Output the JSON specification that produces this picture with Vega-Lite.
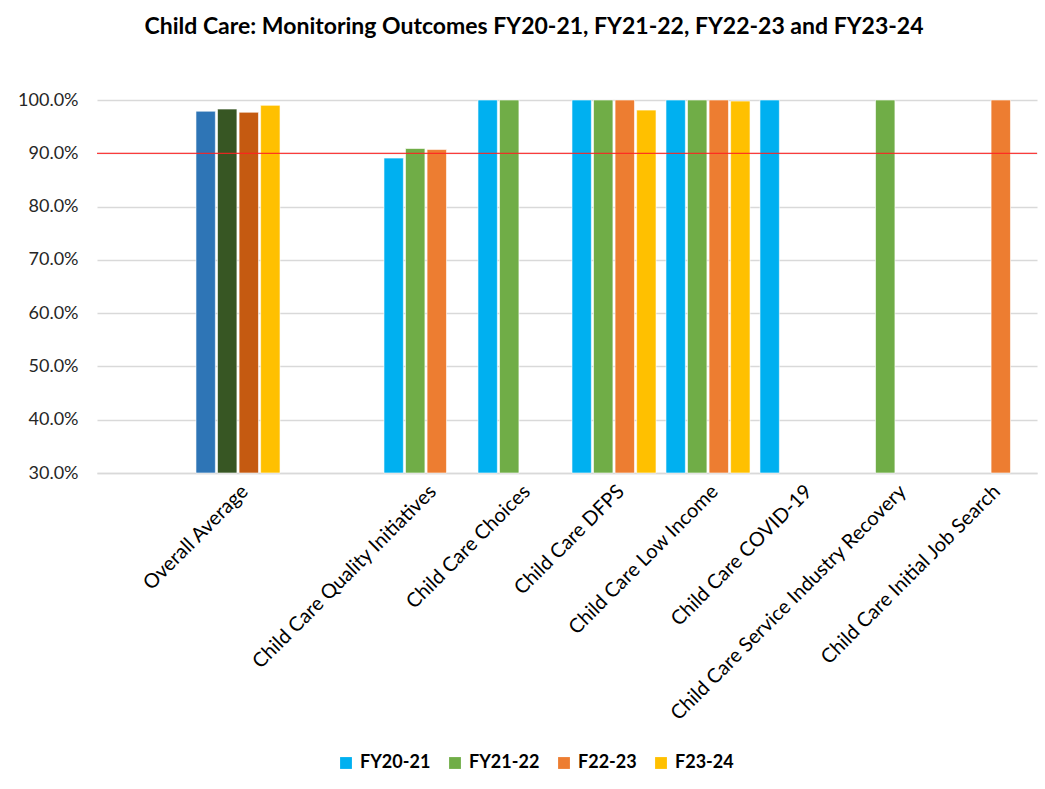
{
  "$schema": "https://vega.github.io/schema/vega-lite/v6.json",
  "autosize": "none",
  "width": 940,
  "height": 373,
  "padding": {"left": 97, "top": 100, "right": 8, "bottom": 316},
  "background": "#ffffff",
  "title": {
    "text": "Child Care: Monitoring Outcomes FY20-21, FY21-22, FY22-23 and FY23-24",
    "font": "Lato",
    "fontSize": 23,
    "fontWeight": "bold",
    "color": "#000000",
    "anchor": "middle",
    "dx": -33,
    "offset": 52
  },
  "config": {
    "view": {"stroke": null},
    "font": "Lato"
  },
  "layer": [
    {
      "data": {
        "values": [
          {"category": "Overall Average", "series": "FY20-21", "value": 0.979},
          {"category": "Overall Average", "series": "FY21-22", "value": 0.983},
          {"category": "Overall Average", "series": "F22-23", "value": 0.977},
          {"category": "Overall Average", "series": "F23-24", "value": 0.990},
          {"category": "Child Care Quality Initiatives", "series": "FY20-21", "value": 0.891},
          {"category": "Child Care Quality Initiatives", "series": "FY21-22", "value": 0.909},
          {"category": "Child Care Quality Initiatives", "series": "F22-23", "value": 0.907},
          {"category": "Child Care Choices", "series": "FY20-21", "value": 1.0},
          {"category": "Child Care Choices", "series": "FY21-22", "value": 1.0},
          {"category": "Child Care DFPS", "series": "FY20-21", "value": 1.0},
          {"category": "Child Care DFPS", "series": "FY21-22", "value": 1.0},
          {"category": "Child Care DFPS", "series": "F22-23", "value": 1.0},
          {"category": "Child Care DFPS", "series": "F23-24", "value": 0.981},
          {"category": "Child Care Low Income", "series": "FY20-21", "value": 1.0},
          {"category": "Child Care Low Income", "series": "FY21-22", "value": 1.0},
          {"category": "Child Care Low Income", "series": "F22-23", "value": 1.0},
          {"category": "Child Care Low Income", "series": "F23-24", "value": 0.998},
          {"category": "Child Care COVID-19", "series": "FY20-21", "value": 1.0},
          {"category": "Child Care Service Industry Recovery", "series": "FY21-22", "value": 1.0},
          {"category": "Child Care Initial Job Search", "series": "F22-23", "value": 1.0}
        ]
      },
      "transform": [
        {"calculate": "datum.category === 'Overall Average' ? 'avg ' + datum.series : datum.series", "as": "shade"}
      ],
      "mark": {"type": "bar", "stroke": "#ffffff", "strokeOpacity": 0.6, "strokeWidth": 1},
      "encoding": {
        "x": {
          "field": "category",
          "type": "nominal",
          "sort": null,
          "scale": {
            "domain": [" ", "Overall Average", "  ", "Child Care Quality Initiatives", "Child Care Choices", "Child Care DFPS", "Child Care Low Income", "Child Care COVID-19", "Child Care Service Industry Recovery", "Child Care Initial Job Search"],
            "paddingInner": 0.106,
            "paddingOuter": 0.053
          },
          "axis": {
            "title": null,
            "labelAngle": -45,
            "labelFontSize": 20,
            "labelFont": "Lato",
            "labelColor": "#000000",
            "labelPadding": 8,
            "ticks": false,
            "domainColor": "#d9d9d9",
            "domainWidth": 1.5,
            "labelLimit": 400
          }
        },
        "xOffset": {
          "field": "series",
          "type": "nominal",
          "scale": {"domain": ["FY20-21", "FY21-22", "F22-23", "F23-24"], "paddingInner": 0.1}
        },
        "y": {
          "field": "value",
          "type": "quantitative",
          "scale": {"domain": [0.3, 1.0], "zero": false, "nice": false},
          "axis": {
            "title": null,
            "format": ".1%",
            "values": [0.3, 0.4, 0.5, 0.6, 0.7, 0.8, 0.9, 1.0],
            "labelFontSize": 18,
            "labelFont": "Lato",
            "labelColor": "#262626",
            "labelPadding": 19,
            "ticks": false,
            "domain": false,
            "grid": true,
            "gridColor": "#d9d9d9",
            "gridWidth": 1.5
          }
        },
        "y2": {"datum": 0.3},
        "color": {
          "field": "shade",
          "type": "nominal",
          "scale": {
            "domain": ["FY20-21", "FY21-22", "F22-23", "F23-24", "avg FY20-21", "avg FY21-22", "avg F22-23", "avg F23-24"],
            "range": ["#00B0F0", "#70AD47", "#ED7D31", "#FFC000", "#2E75B6", "#375623", "#C55A11", "#FFC000"]
          },
          "legend": {
            "title": null,
            "values": ["FY20-21", "FY21-22", "F22-23", "F23-24"],
            "orient": "none",
            "direction": "horizontal",
            "legendX": 240,
            "legendY": 654,
            "symbolType": "square",
            "symbolSize": 140,
            "symbolStrokeWidth": 0,
            "labelFontSize": 18,
            "labelFontWeight": "bold",
            "labelFont": "Lato",
            "labelColor": "#000000",
            "columnPadding": 15,
            "labelOffset": 5
          }
        }
      }
    },
    {
      "data": {"values": [{"target": 0.9}]},
      "mark": {"type": "rule", "color": "#FF2020", "strokeWidth": 1.2, "opacity": 0.85},
      "encoding": {
        "y": {"field": "target", "type": "quantitative"}
      }
    }
  ]
}
